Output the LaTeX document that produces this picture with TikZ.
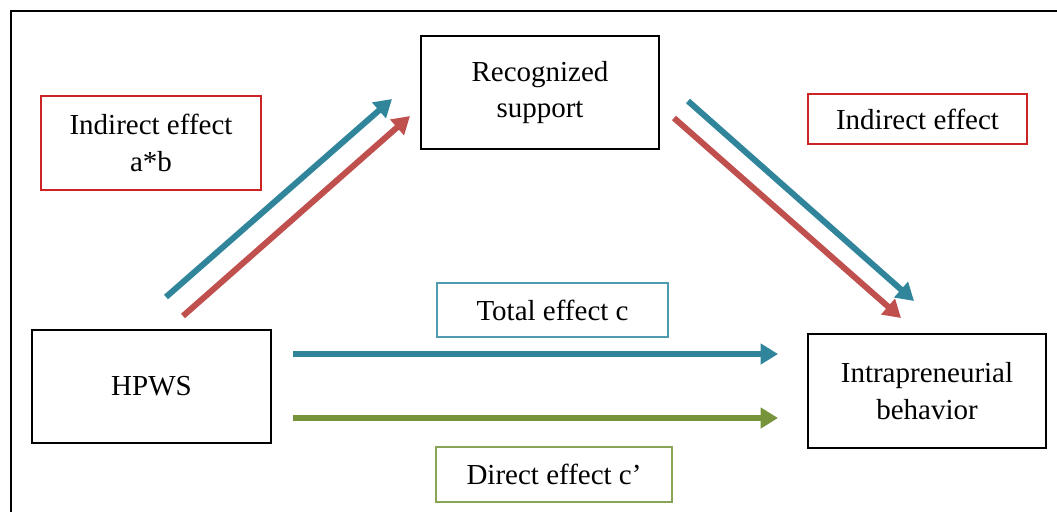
\documentclass[tikz,border=0pt]{standalone}
\usepackage{fontspec}
\setmainfont{Liberation Serif}
\usetikzlibrary{arrows.meta}

\definecolor{pathblue}{RGB}{49,133,155}
\definecolor{pathred}{RGB}{192,80,77}
\definecolor{pathgreen}{RGB}{119,147,60}
\definecolor{framered}{RGB}{205,35,35}
\definecolor{frameblue}{RGB}{80,155,175}
\definecolor{framegreen}{RGB}{135,165,85}

\begin{document}
\begin{tikzpicture}[x=0.75pt, y=-0.75pt,
    every node/.style={font=\fontsize{21.75}{27.5}\selectfont, align=center},
    varbox/.style={draw=black, line width=1.5pt},
    effbox/.style={draw=#1, line width=0.9pt},
    effect/.style={line width=4.5pt, #1, -{Triangle[length=13pt, width=15pt]}}]
    \useasboundingbox (0,0) rectangle (1057,511);
    \clip (0,0) rectangle (1057,511);

    % outer frame
    \draw[line width=1.6pt] (11,540) -- (11,11) -- (1080,11);

    % variables
    \node[varbox, minimum width=178.5pt, minimum height=84.75pt] (rs) at (540,92.5) {Recognized\\support};
    \node[varbox, minimum width=179.25pt, minimum height=84.75pt] (hpws) at (151.5,386.5) {HPWS};
    \node[varbox, minimum width=178.5pt, minimum height=85.5pt] (ib) at (927,391) {Intrapreneurial\\behavior};

    % effect labels
    \node[effbox=framered, minimum width=165pt, minimum height=70.5pt] (ab) at (151,143) {Indirect effect\\a*b};
    \node[effbox=framered, minimum width=164.25pt, minimum height=37.5pt] (ind) at (917.5,119) {Indirect effect};
    \node[effbox=frameblue, minimum width=173.25pt, minimum height=40.5pt] (tot) at (552.5,310) {Total effect c};
    \node[effbox=framegreen, minimum width=177pt, minimum height=41.25pt] (dir) at (554,474.5) {Direct effect c’};

    % arrow ends
    \coordinate (upb0) at (166,297);  \coordinate (upb1) at (392,99);
    \coordinate (upr0) at (183,316);  \coordinate (upr1) at (410,116);
    \coordinate (dnb0) at (688,101);  \coordinate (dnb1) at (914,301);
    \coordinate (dnr0) at (674,118);  \coordinate (dnr1) at (901,318);
    \coordinate (tb0) at (293,354);   \coordinate (tb1) at (778,354);
    \coordinate (dg0) at (293,418);   \coordinate (dg1) at (778,418);

    \draw[effect=pathblue] (upb0) -- (upb1);
    \draw[effect=pathred] (upr0) -- (upr1);
    \draw[effect=pathblue] (dnb0) -- (dnb1);
    \draw[effect=pathred] (dnr0) -- (dnr1);
    \draw[effect=pathblue] (tb0) -- (tb1);
    \draw[effect=pathgreen] (dg0) -- (dg1);
\end{tikzpicture}
\end{document}
